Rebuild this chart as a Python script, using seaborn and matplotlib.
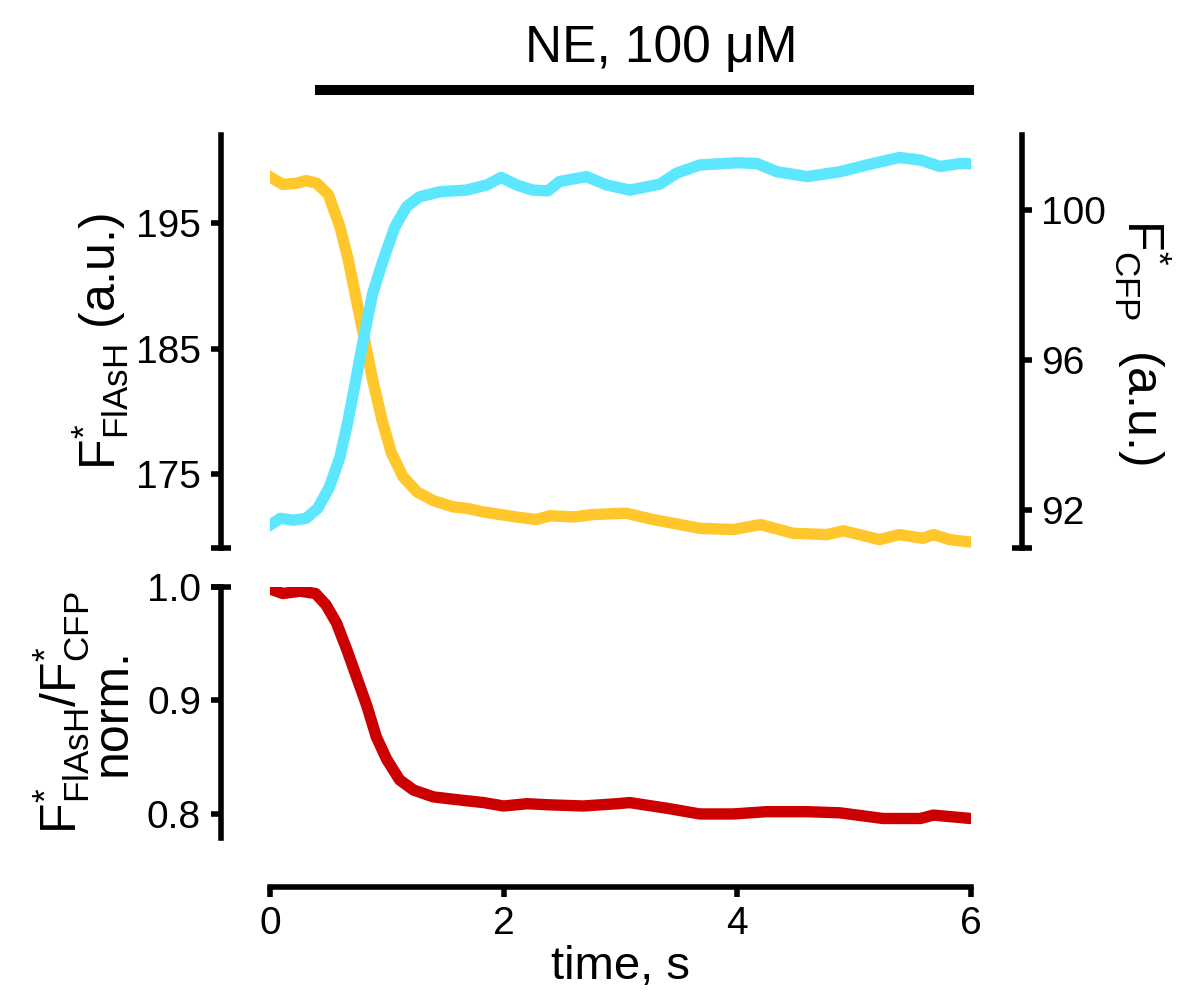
"""FlAsH / CFP FRET traces after NE stimulation."""

import matplotlib
matplotlib.use("Agg")
import matplotlib.pyplot as plt
import pandas as pd
import seaborn as sns

# F*FlAsH, left axis of top panel
t_flash = [0, 0.11, 0.23, 0.31, 0.40, 0.50, 0.60, 0.67, 0.74, 0.81, 0.88, 0.96,
           1.04, 1.14, 1.26, 1.40, 1.57, 1.68, 1.83, 2.11, 2.28, 2.40, 2.60, 2.77,
           3.05, 3.28, 3.68, 3.97, 4.20, 4.48, 4.77, 4.91, 5.22, 5.39, 5.59, 5.68,
           5.82, 6.0]
f_flash = [198.7, 198.1, 198.2, 198.4, 198.2, 197.3, 194.7, 192.1, 188.9, 185.7,
           182.5, 179.3, 176.7, 174.8, 173.6, 172.9, 172.4, 172.3, 172.0, 171.6,
           171.4, 171.7, 171.6, 171.8, 171.9, 171.4, 170.7, 170.6, 171.0, 170.3,
           170.2, 170.5, 169.8, 170.2, 169.9, 170.2, 169.8, 169.6]

# F*CFP, right axis of top panel
t_cfp = [0, 0.09, 0.20, 0.31, 0.41, 0.51, 0.60, 0.67, 0.74, 0.81, 0.88, 0.97,
         1.07, 1.17, 1.28, 1.46, 1.68, 1.86, 1.98, 2.11, 2.25, 2.38, 2.48, 2.71,
         2.88, 3.08, 3.34, 3.48, 3.68, 4.0, 4.17, 4.34, 4.6, 4.88, 5.11, 5.39,
         5.57, 5.74, 5.91, 6.0]
f_cfp = [91.6, 91.78, 91.73, 91.78, 92.05, 92.62, 93.42, 94.4, 95.55, 96.71,
         97.78, 98.67, 99.55, 100.09, 100.35, 100.49, 100.53, 100.67, 100.87,
         100.67, 100.53, 100.51, 100.76, 100.89, 100.67, 100.53, 100.69, 100.98,
         101.2, 101.26, 101.24, 101.02, 100.89, 101.02, 101.2, 101.4, 101.33,
         101.16, 101.24, 101.23]

# normalised ratio, bottom panel
t_ratio = [0, 0.11, 0.26, 0.39, 0.48, 0.57, 0.66, 0.74, 0.83, 0.91, 1.0, 1.11,
           1.23, 1.40, 1.65, 1.83, 2.0, 2.2, 2.4, 2.68, 2.97, 3.08, 3.4, 3.68,
           3.97, 4.25, 4.6, 4.88, 5.25, 5.57, 5.68, 6.0]
ratio = [0.998, 0.994, 0.996, 0.994, 0.984, 0.968, 0.944, 0.921, 0.895, 0.868,
         0.848, 0.830, 0.821, 0.815, 0.812, 0.810, 0.807, 0.809, 0.808, 0.807,
         0.809, 0.810, 0.805, 0.800, 0.800, 0.802, 0.802, 0.801, 0.796, 0.796,
         0.799, 0.796]

flash_ticks = [175, 185, 195]
cfp_ticks = [92, 96, 100]
ratio_ticks = [0.8, 0.9, 1.0]
time_ticks = [0, 2, 4, 6]
ne_start, ne_end = 0.385, 6.03

sns.set_theme(style="ticks")
plt.rcParams["font.family"] = ["Liberation Sans", "DejaVu Sans"]
plt.rcParams["mathtext.fontset"] = "custom"
plt.rcParams["mathtext.rm"] = "Liberation Sans"
plt.rcParams["mathtext.it"] = "Liberation Sans:italic"
for key in ("text.color", "axes.labelcolor", "xtick.color", "ytick.color",
            "axes.edgecolor"):
    plt.rcParams[key] = "black"

YELLOW = "#FFC72C"
CYAN = "#5DE7FE"
RED = "#CC0000"
LW = 8.2
SPINE_W = 4.0
LABEL_FS = 36

fig = plt.figure(figsize=(12.03, 10.02), dpi=100)
ax_top = fig.add_axes([0.2244, 0.4531, 0.5825, 0.4122])
ax_cfp = ax_top.twinx()
ax_bot = fig.add_axes([0.2244, 0.1634, 0.5825, 0.2511])

kw = dict(linewidth=LW, solid_capstyle="projecting", solid_joinstyle="round",
          legend=False)
sns.lineplot(data=pd.DataFrame({"t": t_flash, "v": f_flash}), x="t", y="v",
             color=YELLOW, ax=ax_top, **kw)
sns.lineplot(data=pd.DataFrame({"t": t_cfp, "v": f_cfp}), x="t", y="v",
             color=CYAN, ax=ax_cfp, **kw)
sns.lineplot(data=pd.DataFrame({"t": t_ratio, "v": ratio}), x="t", y="v",
             color=RED, ax=ax_bot, **kw)

for ax in (ax_top, ax_cfp, ax_bot):
    ax.set_xlim(0, 6)
    ax.patch.set_visible(False)
    for s in ax.spines.values():
        s.set_linewidth(SPINE_W)
        s.set_color("black")
    ax.tick_params(length=7, width=SPINE_W, labelsize=28, pad=7,
                   color="black", labelcolor="black")

ax_top.set_ylim(169.13, 202.04)
ax_cfp.set_ylim(90.99, 102.0)
ax_bot.set_ylim(0.7786, 1.0)

# top panel: left axis only
for s in ("top", "right", "bottom"):
    ax_top.spines[s].set_visible(False)
ax_top.spines["left"].set_position(("outward", 35.6))
ax_top.set_yticks(flash_ticks)
ax_top.set_xticks([])
ax_top.set_xlabel("")
ax_top.set_ylabel(r"$\mathregular{F^{*}_{FlAsH}}$ (a.u.)", fontsize=LABEL_FS,
                  labelpad=4)

# right axis for CFP
for s in ("top", "left", "bottom"):
    ax_cfp.spines[s].set_visible(False)
ax_cfp.spines["right"].set_position(("outward", 36.7))
ax_cfp.set_yticks(cfp_ticks)
ax_cfp.set_xticks([])
ax_cfp.set_xlabel("")
ax_cfp.set_ylabel(r"$\mathregular{F^{*}_{CFP}}$  (a.u.)", fontsize=LABEL_FS,
                  rotation=270, va="bottom", labelpad=4)

# bottom panel
for s in ("top", "right"):
    ax_bot.spines[s].set_visible(False)
ax_bot.spines["left"].set_position(("outward", 35.6))
ax_bot.spines["bottom"].set_position(("outward", 34.8))
ax_bot.set_yticks(ratio_ticks)
ax_bot.set_yticklabels([f"{v:.1f}" for v in ratio_ticks])
ax_bot.set_xticks(time_ticks)
ax_bot.set_xlabel("time, s", fontsize=34, labelpad=2)
ax_bot.set_ylabel(r"$\mathregular{F^{*}_{FlAsH}/F^{*}_{CFP}}$" + "\nnorm.",
                  fontsize=LABEL_FS, labelpad=8, linespacing=0.95)

# end caps on the axis spines
cap = dict(marker="_", markersize=14.4, markeredgewidth=SPINE_W, color="black",
           clip_on=False)
ax_top.plot([0], [ax_top.get_ylim()[0]],
            transform=ax_top.spines["left"].get_spine_transform(), **cap)
ax_cfp.plot([1], [ax_cfp.get_ylim()[0]],
            transform=ax_cfp.spines["right"].get_spine_transform(), **cap)
ax_bot.plot([0], [ax_bot.get_ylim()[1]],
            transform=ax_bot.spines["left"].get_spine_transform(), **cap)

# stimulation bar
ax_top.plot([ne_start, ne_end], [1.109, 1.109], color="black", linewidth=7.2,
            solid_capstyle="butt", transform=ax_top.get_xaxis_transform(),
            clip_on=False)
ax_top.text(3.35, 1.177, "NE, 100 μM", fontsize=37, ha="center", va="baseline",
            transform=ax_top.get_xaxis_transform())

ax_top.set_ylim(169.13, 202.04)
ax_cfp.set_ylim(90.99, 102.0)
ax_bot.set_ylim(0.7786, 1.0)

fig.savefig("out.png", dpi=100)
